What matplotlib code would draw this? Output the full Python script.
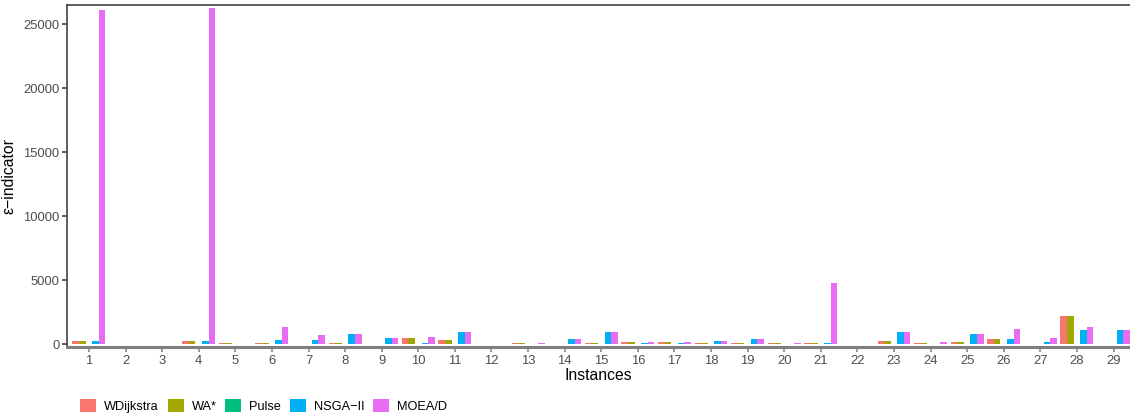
import matplotlib.pyplot as plt
import numpy as np

plt.rcParams["font.family"] = ["Liberation Sans", "DejaVu Sans"]

instances = list(range(1, 30))
methods = ["WDijkstra", "WA*", "Pulse", "NSGA\u2212II", "MOEA/D"]
colors = ["#F8766D", "#A3A500", "#00BF7D", "#00B0F6", "#E76BF3"]

wdijkstra = [260, 30, 30, 260, 100, 100, 30, 100, 30, 490,
             340, 30, 100, 30, 100, 180, 180, 100, 100, 100,
             100, 30, 260, 100, 180, 420, 30, 2210, 30]
wastar = [260, 30, 30, 260, 100, 100, 30, 100, 30, 490,
          340, 30, 100, 30, 100, 180, 180, 100, 100, 100,
          100, 30, 260, 100, 180, 420, 30, 2210, 30]
pulse = [10] * 29
nsga2 = [200, 30, 30, 200, 30, 340, 340, 750, 440, 100,
         960, 30, 30, 420, 960, 100, 100, 260, 420, 30,
         100, 30, 960, 30, 800, 420, 180, 1120, 1120]
moead = [26150, 30, 30, 26300, 30, 1300, 670, 750, 440, 520,
         960, 30, 100, 420, 960, 180, 180, 260, 420, 100,
         4750, 30, 960, 180, 800, 1200, 490, 1350, 1120]
series = [wdijkstra, wastar, pulse, nsga2, moead]

fig = plt.figure(figsize=(11.3, 4.16), dpi=100)
ax = fig.add_axes([0.0593, 0.166, 0.9407, 0.823])

x = np.arange(1, len(instances) + 1)
width = 0.18
for i, (name, vals, c) in enumerate(zip(methods, series, colors)):
    ax.bar(x + (i - 2) * width, vals, width, color=c, label=name, linewidth=0)

ax.set_xlim(0.4, 29.45)
ax.set_ylim(-230, 26540)
ax.set_xticks(x)
ax.set_xticklabels([str(i) for i in instances])
ax.set_yticks(range(0, 25001, 5000))

ax.tick_params(axis="x", color="#7F7F7F", labelcolor="#4D4D4D", labelsize=9.4,
               length=3.5, width=1.1, pad=2)
ax.tick_params(axis="y", color="#333333", labelcolor="#4D4D4D", labelsize=9.4,
               length=3.5, width=1.1, pad=2)

ax.spines["right"].set_visible(False)
for side in ["left", "top"]:
    ax.spines[side].set_color("#333333")
    ax.spines[side].set_linewidth(1.1)
ax.spines["bottom"].set_color("#7F7F7F")
ax.spines["bottom"].set_linewidth(2.2)

ax.set_xlabel("Instances", fontsize=11.3, labelpad=1)
ax.set_ylabel("\u03b5\u2212indicator", fontsize=11.3, labelpad=5)

# legend row under the x label
fig.legend(loc="lower left", bbox_to_anchor=(0.0655, -0.008), ncol=5,
           frameon=False, fontsize=9.2, handlelength=1.25, handleheight=1.25,
           handletextpad=0.62, columnspacing=0.68, borderaxespad=0.1)

fig.savefig("out.png", dpi=100)
